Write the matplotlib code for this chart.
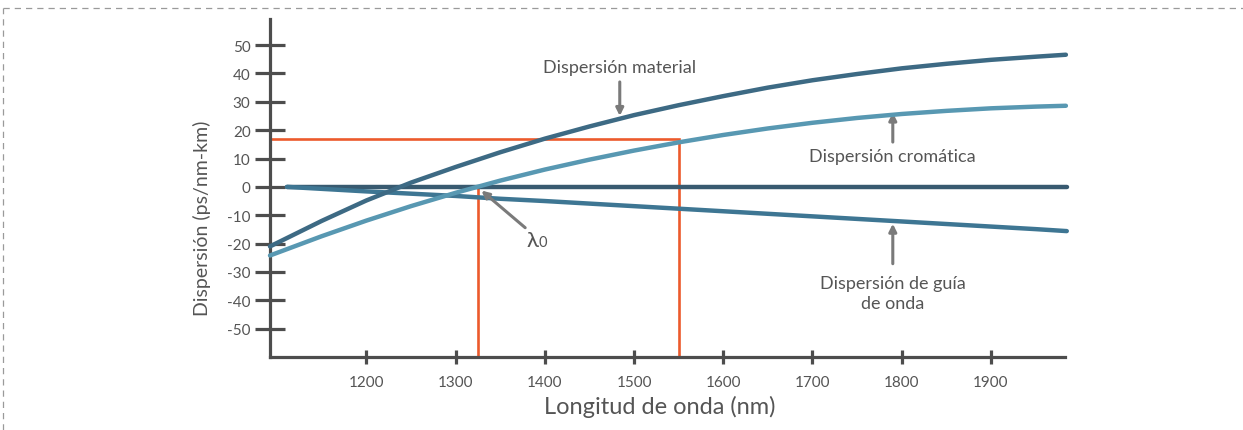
import numpy as np
import matplotlib.pyplot as plt
from matplotlib.lines import Line2D

plt.rcParams['font.family'] = ['Lato', 'DejaVu Sans']
plt.rcParams['axes.unicode_minus'] = False

# wavelength grid (nm) and dispersion curves (ps/nm-km)
wl = [1092, 1150, 1200, 1250, 1300, 1350, 1400, 1450, 1500, 1550,
      1600, 1650, 1700, 1750, 1800, 1850, 1900, 1950, 1984]
material = [-21.0, -12.0, -4.8, 1.5, 7.0, 12.2, 17.0, 21.3, 25.3, 28.8,
            32.0, 35.0, 37.6, 39.8, 41.8, 43.4, 44.8, 45.9, 46.6]
chromatic = [-24.2, -17.4, -11.9, -6.8, -2.1, 2.2, 6.1, 9.6, 12.8, 15.7,
             18.3, 20.6, 22.6, 24.3, 25.7, 26.8, 27.7, 28.3, 28.6]
wl_guide = [1111, 1150, 1200, 1250, 1300, 1350, 1400, 1450, 1500, 1550,
            1600, 1650, 1700, 1750, 1800, 1850, 1900, 1950, 1985]
waveguide = [0.0, -0.7, -1.6, -2.4, -3.2, -4.2, -5.0, -5.9, -6.8, -7.7,
             -8.6, -9.5, -10.4, -11.3, -12.2, -13.1, -14.0, -14.9, -15.6]
zero_wl = [1111, 1985]

lambda0 = 1325
op_wl = 1550
op_disp = 17

xticks = [1200, 1300, 1400, 1500, 1600, 1700, 1800, 1900]
yticks = [-50, -40, -30, -20, -10, 0, 10, 20, 30, 40, 50]

c_mat = '#3d6a84'
c_chr = '#5898b2'
c_wg = '#3e7693'
c_zero = '#385a70'
c_red = '#ec5a2c'
c_axis = '#4d4d4d'
c_arrow = '#7a7a7a'
c_text = '#555555'

W, H = 1243, 431
fig = plt.figure(figsize=(W / 100, H / 100), dpi=100)
ax = fig.add_axes([270 / W, 1 - 358 / H, (1065 - 270) / W, (358 - 20) / H])

ax.set_xlim(1092, 1983)
ax.set_ylim(-60, 59.2)

# reference lines at 1550 nm / 17 ps/nm-km and at lambda0
ax.plot([1092, op_wl, op_wl], [op_disp, op_disp, -60], color=c_red, lw=1.9,
        solid_joinstyle='miter', clip_on=False, zorder=2)
ax.plot([lambda0, lambda0], [0, -60], color=c_red, lw=1.9, clip_on=False, zorder=2)

ax.plot(zero_wl, [0, 0], color=c_zero, lw=3.2, solid_capstyle='round', clip_on=False, zorder=3)
ax.plot(wl_guide, waveguide, color=c_wg, lw=3.2, solid_capstyle='round', clip_on=False, zorder=3)
ax.plot(wl, chromatic, color=c_chr, lw=3.2, solid_capstyle='round', clip_on=False, zorder=4)
ax.plot(wl, material, color=c_mat, lw=3.2, solid_capstyle='round', clip_on=False, zorder=4)

for s in ['top', 'right']:
    ax.spines[s].set_visible(False)
for s in ['left', 'bottom']:
    ax.spines[s].set_color(c_axis)
    ax.spines[s].set_linewidth(2.3)

ax.set_xticks(xticks)
ax.set_yticks(yticks)
ax.tick_params(axis='y', direction='inout', length=22, width=2.3, color=c_axis,
               labelcolor=c_text, labelsize=11, pad=3)
ax.tick_params(axis='x', direction='inout', length=9.5, width=2.3, color=c_axis,
               labelcolor=c_text, labelsize=11, pad=8)

ax.set_xlabel('Longitud de onda (nm)', fontsize=17, color=c_text)
ax.set_ylabel('Dispersión (ps/nm-km)', fontsize=14, color=c_text)
ax.xaxis.set_label_coords(0.49, -0.112)
ax.yaxis.set_label_coords(-0.074, 0.414)

arrow = dict(arrowstyle='-|>', color=c_arrow, lw=2.2, mutation_scale=11, shrinkA=0, shrinkB=0)

ax.annotate('', xy=(1484, 25.0), xytext=(1484, 37.0), arrowprops=arrow)
ax.text(1484, 42.3, 'Dispersión material', fontsize=13, color=c_text,
        ha='center', va='center')

ax.annotate('', xy=(1790, 26.2), xytext=(1790, 15.8), arrowprops=arrow)
ax.text(1790, 10.9, 'Dispersión cromática', fontsize=13, color=c_text,
        ha='center', va='center')

ax.annotate('', xy=(1790, -13.0), xytext=(1790, -27.1), arrowprops=arrow)
ax.text(1790, -37.5, 'Dispersión de guía\nde onda', fontsize=13, color=c_text,
        ha='center', va='center', linespacing=1.35)

ax.annotate('', xy=(1329, -1.3), xytext=(1378, -14.4), arrowprops=arrow)
ax.text(1386, -20.8, 'λ', fontsize=16, color=c_text, ha='center', va='baseline')
ax.text(1393, -20.8, '0', fontsize=10.5, color=c_text, ha='left', va='baseline')

# dashed frame along the top and left edges
fig.add_artist(Line2D([3 / W, 1], [1 - 9 / H, 1 - 9 / H], transform=fig.transFigure,
                      color='#9a9a9a', lw=0.9, ls=(0, (5, 4))))
fig.add_artist(Line2D([3 / W, 3 / W], [0, 1 - 9 / H], transform=fig.transFigure,
                      color='#9a9a9a', lw=0.9, ls=(0, (5, 4))))

fig.savefig('out.png', dpi=100)
